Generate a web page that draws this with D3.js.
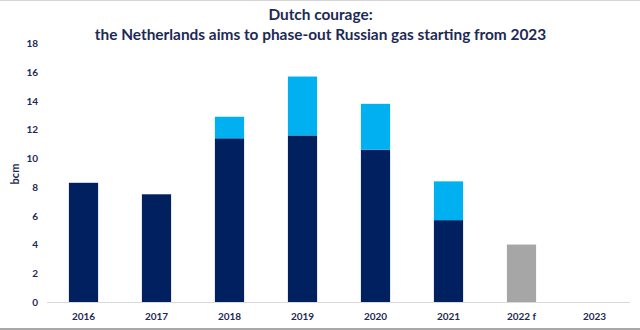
<!DOCTYPE html>
<html>
<head>
<meta charset="utf-8">
<script src="https://cdn.jsdelivr.net/npm/d3@7"></script>
<style>
  html, body { margin: 0; padding: 0; background: #fff; }
  svg { display: block; }
</style>
</head>
<body>
<svg id="chart" width="640" height="330"></svg>
<script>
// Yearly volumes in bcm
const categories = ["2016", "2017", "2018", "2019", "2020", "2021", "2022 f", "2023"];
const baseValues = [8.3, 7.5, 11.4, 11.6, 10.6, 5.7, 0, 0];
const topValues = [0, 0, 1.5, 4.1, 3.2, 2.7, 0, 0];
const forecastValues = [0, 0, 0, 0, 0, 0, 4.0, 0];
const yTicks = [0, 2, 4, 6, 8, 10, 12, 14, 16, 18];
const titleLines = ["Dutch courage:", "the Netherlands aims to phase-out Russian gas starting from 2023"];

const W = 640, H = 330;
const textColor = "#1c2a55";
const font = "Lato, 'Open Sans', sans-serif";

const svg = d3.select("#chart");

// frame lines
svg.append("rect").attr("x", 0).attr("y", 0).attr("width", W).attr("height", 1).attr("fill", "#d4d4d4");
svg.append("rect").attr("x", 0).attr("y", 328).attr("width", W).attr("height", 2).attr("fill", "#a8a8a8");

const x = d3.scaleBand().domain(categories).range([47, 631]).paddingInner(0.6).paddingOuter(0.3);
const y = d3.scaleLinear().domain([0, 18]).range([302, 43.5]);

// title
svg.append("g").selectAll("text").data(titleLines).join("text")
  .attr("x", 320.5).attr("y", (d, i) => 19.5 + i * 20)
  .attr("text-anchor", "middle")
  .attr("font-family", font).attr("font-weight", "bold").attr("font-size", 15.4)
  .attr("fill", textColor)
  .text(d => d);

// stacked bars
const rows = categories.map((c, i) => ({ cat: c, base: baseValues[i], top: topValues[i], forecast: forecastValues[i] }));
const stack = d3.stack().keys(["base", "top", "forecast"])(rows);
const colors = { base: "#002060", top: "#00b0f0", forecast: "#a6a6a6" };

svg.append("g").selectAll("g").data(stack).join("g")
  .attr("fill", d => colors[d.key])
  .selectAll("rect").data(d => d.filter(p => p[1] > p[0])).join("rect")
  .attr("x", d => x(d.data.cat))
  .attr("width", x.bandwidth())
  .attr("y", d => y(d[1]))
  .attr("height", d => y(d[0]) - y(d[1]));

// x axis
const xAxis = svg.append("g").attr("transform", `translate(0,${y(0)})`)
  .call(d3.axisBottom(x).tickSize(0).tickPadding(11));
xAxis.select(".domain").attr("stroke", "#d9d9d9").attr("d", "M47,0.5H630");
xAxis.selectAll("text").attr("font-family", font).attr("font-weight", "bold")
  .attr("font-size", 10).attr("fill", textColor);

// y axis labels
const yAxis = svg.append("g").attr("transform", "translate(38,0)")
  .call(d3.axisLeft(y).tickValues(yTicks).tickSize(0).tickPadding(0));
yAxis.select(".domain").remove();
yAxis.selectAll("text").attr("font-family", font).attr("font-weight", "bold")
  .attr("font-size", 10).attr("fill", textColor);

// y axis title
svg.append("text")
  .attr("transform", "translate(19,174) rotate(-90)")
  .attr("text-anchor", "middle")
  .attr("font-family", font).attr("font-weight", "bold").attr("font-size", 11)
  .attr("fill", textColor)
  .text("bcm");
</script>
</body>
</html>
